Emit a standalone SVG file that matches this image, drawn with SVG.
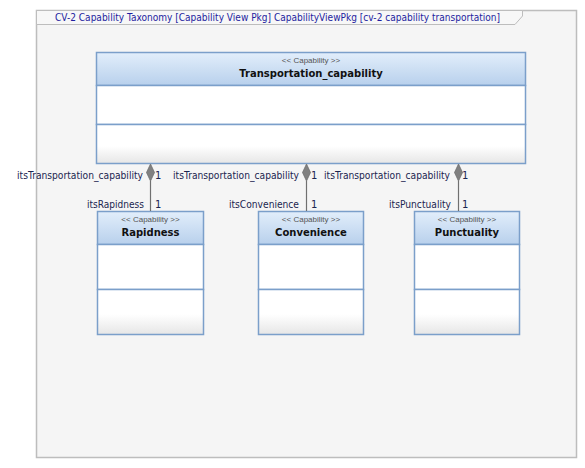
<svg xmlns="http://www.w3.org/2000/svg" width="585" height="468" viewBox="0 0 585 468">
<defs>
<linearGradient id="hdr" x1="0" y1="0" x2="0" y2="1"><stop offset="0" stop-color="#e2eefb"/><stop offset="1" stop-color="#b8d0ec"/></linearGradient>
<linearGradient id="bot" x1="0" y1="0" x2="0" y2="1"><stop offset="0.55" stop-color="#ffffff"/><stop offset="1" stop-color="#e6e6e6"/></linearGradient>
<style>
.frame{fill:#f5f5f5;stroke:#bdbdbd;stroke-width:1.5}
.tab{fill:#f7f7f7;stroke:#bdbdbd;stroke-width:1}
.title{font-family:Tahoma,"DejaVu Sans","Liberation Sans",sans-serif;font-size:10px;fill:#1e1ea0}
.box{stroke:#7b9fca;stroke-width:1.5}
.hdr{fill:url(#hdr)}
.mid{fill:#ffffff}
.bot{fill:url(#bot)}
.st{font-family:"Liberation Sans",Arial,sans-serif;font-size:8px;fill:#555;text-anchor:middle}
.nm{font-family:"DejaVu Sans","Liberation Sans",sans-serif;font-size:10px;font-weight:bold;fill:#111;text-anchor:middle}
.lbl{font-family:"DejaVu Sans","Liberation Sans",sans-serif;font-size:10px;fill:#1b2550}
.ln{stroke:#707070;stroke-width:1.2;fill:none}
.dia{fill:#808080;stroke:#707070;stroke-width:0.8}
</style>
</defs>
<rect x="0" y="0" width="585" height="468" fill="#ffffff"/>
<rect class="frame" x="36.5" y="10.5" width="540" height="447"/>
<path class="tab" d="M36.5 10.5 H522.5 V16 L515 24.5 H36.5 Z"/>
<text class="title" x="55" y="20.5" textLength="445" lengthAdjust="spacingAndGlyphs">CV-2 Capability Taxonomy [Capability View Pkg] CapabilityViewPkg [cv-2 capability transportation]</text>

<g id="Transportation_capability">
<rect class="box hdr" x="96.5" y="52.5" width="429" height="33"/>
<rect class="box mid" x="96.5" y="85.5" width="429" height="39"/>
<rect class="box bot" x="96.5" y="124.5" width="429" height="39"/>
<text class="st" x="311" y="63">&lt;&lt; Capability &gt;&gt;</text>
<text class="nm" x="311" y="77">Transportation_capability</text>
</g>

<g id="Rapidness">
<rect class="box hdr" x="97.5" y="211.5" width="106" height="33"/>
<rect class="box mid" x="97.5" y="244.5" width="106" height="45"/>
<rect class="box bot" x="97.5" y="289.5" width="106" height="45"/>
<text class="st" x="150.5" y="222">&lt;&lt; Capability &gt;&gt;</text>
<text class="nm" x="150.5" y="236">Rapidness</text>
</g>

<g id="Convenience">
<rect class="box hdr" x="258.5" y="211.5" width="105" height="33"/>
<rect class="box mid" x="258.5" y="244.5" width="105" height="45"/>
<rect class="box bot" x="258.5" y="289.5" width="105" height="45"/>
<text class="st" x="311" y="222">&lt;&lt; Capability &gt;&gt;</text>
<text class="nm" x="311" y="236">Convenience</text>
</g>

<g id="Punctuality">
<rect class="box hdr" x="414.5" y="211.5" width="105" height="33"/>
<rect class="box mid" x="414.5" y="244.5" width="105" height="45"/>
<rect class="box bot" x="414.5" y="289.5" width="105" height="45"/>
<text class="st" x="467" y="222">&lt;&lt; Capability &gt;&gt;</text>
<text class="nm" x="467" y="236">Punctuality</text>
</g>

<g id="connectors">
<line class="ln" x1="150.5" y1="181" x2="150.5" y2="211"/>
<path class="dia" d="M150.5 164 L154.5 172.5 L150.5 181 L146.5 172.5 Z"/>
<line class="ln" x1="306.5" y1="181" x2="306.5" y2="211"/>
<path class="dia" d="M306.5 164 L310.5 172.5 L306.5 181 L302.5 172.5 Z"/>
<line class="ln" x1="458.5" y1="181" x2="458.5" y2="211"/>
<path class="dia" d="M458.5 164 L462.5 172.5 L458.5 181 L454.5 172.5 Z"/>

<text class="lbl" x="17" y="179" textLength="126" lengthAdjust="spacingAndGlyphs">itsTransportation_capability</text>
<text class="lbl" x="155" y="179">1</text>
<text class="lbl" x="87" y="208" textLength="57" lengthAdjust="spacingAndGlyphs">itsRapidness</text>
<text class="lbl" x="155" y="208">1</text>

<text class="lbl" x="173" y="179" textLength="126" lengthAdjust="spacingAndGlyphs">itsTransportation_capability</text>
<text class="lbl" x="311" y="179">1</text>
<text class="lbl" x="229" y="208" textLength="70" lengthAdjust="spacingAndGlyphs">itsConvenience</text>
<text class="lbl" x="311" y="208">1</text>

<text class="lbl" x="324" y="179" textLength="126" lengthAdjust="spacingAndGlyphs">itsTransportation_capability</text>
<text class="lbl" x="462" y="179">1</text>
<text class="lbl" x="389" y="208" textLength="62" lengthAdjust="spacingAndGlyphs">itsPunctuality</text>
<text class="lbl" x="462" y="208">1</text>
</g>
</svg>
